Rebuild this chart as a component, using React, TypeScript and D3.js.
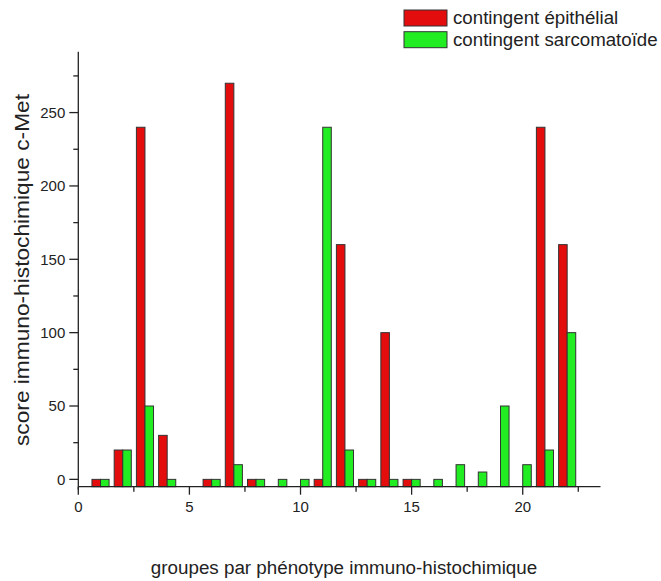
import React from "react";
import * as d3 from "d3";

const groups = [1, 2, 3, 4, 6, 7, 8, 9, 10, 11, 12, 13, 14, 15, 16, 17, 18, 19, 20, 21, 22];
const epithelial: (number | null)[] = [0, 20, 240, 30, 0, 270, 0, null, null, 0, 160, 0, 100, 0, null, null, null, null, null, 240, 160];
const sarcomatoide: (number | null)[] = [0, 20, 50, 0, 0, 10, 0, 0, 0, 240, 20, 0, 0, 0, 0, 10, 5, 50, 10, 20, 100];
const yTicks = [0, 50, 100, 150, 200, 250];
const xTicks = [0, 5, 10, 15, 20];
const seriesNames = ["contingent épithélial", "contingent sarcomatoïde"];
const colors = ["#e30d0d", "#22ec22"];

const W = 661;
const H = 581;

export default function App() {
  const x = d3.scaleLinear().domain([0, 23.5]).range([78.3, 600.5]);
  const y = d3.scaleLinear().domain([-5, 291.5]).range([486.7, 51.7]);
  const bw = x(0.385) - x(0);
  const base = y(-5);
  const font = "Arial, 'Liberation Sans', sans-serif";
  const minorY = d3.range(0, 291, 25).filter((v) => v % 50 !== 0);
  const minorX = d3.range(2.5, 23.5, 5);

  const bars: JSX.Element[] = [];
  groups.forEach((g, i) => {
    const e = epithelial[i];
    const s = sarcomatoide[i];
    if (e !== null) {
      bars.push(
        <rect key={`e${g}`} x={x(g) - bw} y={y(e)} width={bw} height={base - y(e)} fill={colors[0]} stroke="#333" strokeWidth={1} />
      );
    }
    if (s !== null) {
      bars.push(
        <rect key={`s${g}`} x={x(g)} y={y(s)} width={bw} height={base - y(s)} fill={colors[1]} stroke="#333" strokeWidth={1} />
      );
    }
  });

  return (
    <svg width={W} height={H} style={{ position: "absolute", left: 0, top: 0, background: "#fff" }} fontFamily={font}>
      <rect x={0} y={0} width={W} height={H} fill="#fff" />
      {bars}
      {/* y axis */}
      <line x1={x(0)} x2={x(0)} y1={y(291.5)} y2={base + 3} stroke="#222" strokeWidth={1.3} />
      {yTicks.map((t) => (
        <g key={`yt${t}`}>
          <line x1={x(0) - 9} x2={x(0)} y1={y(t)} y2={y(t)} stroke="#222" strokeWidth={1.3} />
          <text x={x(0) - 13} y={y(t)} dy="0.36em" textAnchor="end" fontSize={15} fill="#222">{t}</text>
        </g>
      ))}
      {minorY.map((t) => (
        <line key={`ym${t}`} x1={x(0) - 5} x2={x(0)} y1={y(t)} y2={y(t)} stroke="#222" strokeWidth={1.3} />
      ))}
      {/* x axis */}
      <line x1={x(0)} x2={x(23.5)} y1={base} y2={base} stroke="#222" strokeWidth={1.3} />
      {xTicks.map((t) => (
        <g key={`xt${t}`}>
          <line x1={x(t)} x2={x(t)} y1={base} y2={base + 8} stroke="#222" strokeWidth={1.3} />
          <text x={x(t)} y={base + 25} textAnchor="middle" fontSize={15} fill="#222">{t}</text>
        </g>
      ))}
      {minorX.map((t) => (
        <line key={`xm${t}`} x1={x(t)} x2={x(t)} y1={base} y2={base + 5} stroke="#222" strokeWidth={1.3} />
      ))}
      {/* axis titles */}
      <text x={344} y={574} textAnchor="middle" fontSize={18.8} fill="#222">groupes par phénotype immuno-histochimique</text>
      <text transform="translate(29,270) rotate(-90)" textAnchor="middle" fontSize={21} textLength={352} lengthAdjust="spacingAndGlyphs" fill="#222">score immuno-histochimique c-Met</text>
      {/* legend */}
      {seriesNames.map((n, i) => (
        <g key={n}>
          <rect x={404} y={10 + i * 21.7} width={43} height={16} fill={colors[i]} stroke="#333" strokeWidth={1} />
          <text x={453} y={24 + i * 22} fontSize={18.7} fill="#222">{n}</text>
        </g>
      ))}
    </svg>
  );
}
